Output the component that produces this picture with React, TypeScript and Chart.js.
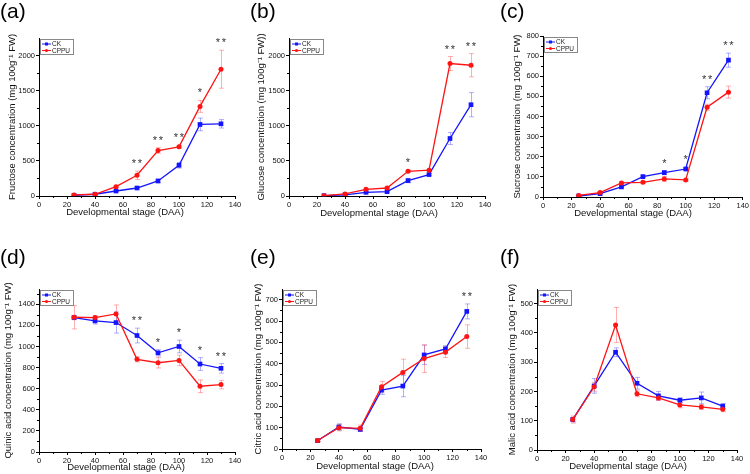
import React, { useEffect, useRef } from "react";
import { Chart, registerables } from "chart.js";
Chart.register(...registerables);

// ---- data ----
const days = [25, 40, 55, 70, 85, 100, 115, 130];
const xTicks = [0, 20, 40, 60, 80, 100, 120, 140];

const fructoseCK = [10, 25, 71, 114, 214, 438, 1019, 1028];
const fructoseCKErr = [5, 8, 10, 15, 25, 40, 90, 60];
const fructoseCPPU = [15, 25, 133, 295, 648, 700, 1276, 1805];
const fructoseCPPUErr = [5, 8, 15, 60, 40, 20, 85, 270];
const fructoseSig = ["", "", "", "**", "**", "**", "*", "**"];
const fructoseTicks = [0, 500, 1000, 1500, 2000];

const glucoseCK = [5, 15, 52, 62, 219, 305, 819, 1300];
const glucoseCKErr = [3, 5, 8, 10, 30, 15, 85, 172];
const glucoseCPPU = [5, 29, 95, 114, 352, 367, 1886, 1862];
const glucoseCPPUErr = [3, 8, 10, 10, 15, 15, 100, 165];
const glucoseSig = ["", "", "", "", "*", "", "**", "**"];
const glucoseTicks = [0, 500, 1000, 1500, 2000];

const sucroseCK = [5, 17, 50, 101, 121, 139, 518, 680];
const sucroseCKErr = [3, 3, 5, 5, 10, 10, 30, 35];
const sucroseCPPU = [8, 22, 70, 73, 90, 85, 446, 521];
const sucroseCPPUErr = [3, 3, 5, 5, 12, 5, 15, 30];
const sucroseSig = ["", "", "", "", "*", "*", "**", "**"];
const sucroseTicks = [0, 100, 200, 300, 400, 500, 600, 700, 800];

const quinicCK = [1274, 1243, 1227, 1104, 940, 1000, 834, 793];
const quinicCKErr = [20, 30, 100, 70, 30, 60, 60, 45];
const quinicCPPU = [1277, 1274, 1309, 878, 846, 868, 623, 639];
const quinicCPPUErr = [110, 20, 85, 25, 50, 50, 60, 40];
const quinicSig = ["", "", "", "**", "*", "*", "*", "**"];
const quinicTicks = [0, 200, 400, 600, 800, 1000, 1200, 1400];

const citricCK = [39, 103, 92, 276, 295, 441, 469, 645];
const citricCKErr = [5, 15, 8, 20, 50, 45, 15, 35];
const citricCPPU = [40, 100, 97, 292, 359, 424, 454, 527];
const citricCPPUErr = [5, 15, 15, 25, 62, 65, 25, 55];
const citricSig = ["", "", "", "", "", "", "", "**"];
const citricTicks = [0, 100, 200, 300, 400, 500, 600, 700];

const malicCK = [104, 219, 334, 228, 185, 170, 178, 150];
const malicCKErr = [8, 25, 15, 20, 15, 8, 20, 8];
const malicCPPU = [104, 216, 427, 192, 178, 154, 147, 139];
const malicCPPUErr = [12, 15, 60, 10, 8, 10, 8, 8];
const malicSig = ["", "", "", "", "", "", "", ""];
const malicTicks = [0, 100, 200, 300, 400, 500];

const seriesNames = ["CK", "CPPU"];
const xTitle = "Developmental stage (DAA)";

// ---- layout / style per panel ----
type Panel = {
  tag: string;
  yTitle: string;
  ck: number[]; ckErr: number[]; cppu: number[]; cppuErr: number[]; sig: string[];
  yTicks: number[]; yMax: number;
  col: number; row: number;
  area: { l: number; t: number; r: number; b: number };
  yTitleX: number; xTitleX: number; xTitleY: number;
};

const panels: Panel[] = [
  { tag: "(a)", yTitle: "Fructose concentration (mg 100g\u207B\u00B9 FW)", ck: fructoseCK, ckErr: fructoseCKErr, cppu: fructoseCPPU, cppuErr: fructoseCPPUErr, sig: fructoseSig, yTicks: fructoseTicks, yMax: 2250, col: 0, row: 0, area: { l: 39, t: 38, r: 235, b: 196 }, yTitleX: 12, xTitleX: 125, xTitleY: 212 },
  { tag: "(b)", yTitle: "Glucose concentration (mg 100g\u207B\u00B9 FW))", ck: glucoseCK, ckErr: glucoseCKErr, cppu: glucoseCPPU, cppuErr: glucoseCPPUErr, sig: glucoseSig, yTicks: glucoseTicks, yMax: 2250, col: 1, row: 0, area: { l: 39, t: 38, r: 235, b: 196 }, yTitleX: 11, xTitleX: 129, xTitleY: 213 },
  { tag: "(c)", yTitle: "Sucrose concentration (mg 100g\u207B\u00B9 FW)", ck: sucroseCK, ckErr: sucroseCKErr, cppu: sucroseCPPU, cppuErr: sucroseCPPUErr, sig: sucroseSig, yTicks: sucroseTicks, yMax: 800, col: 2, row: 0, area: { l: 43, t: 36, r: 243, b: 197 }, yTitleX: 17, xTitleX: 133, xTitleY: 213 },
  { tag: "(d)", yTitle: "Quinic acid concentration (mg 100g\u207B\u00B9 FW)", ck: quinicCK, ckErr: quinicCKErr, cppu: quinicCPPU, cppuErr: quinicCPPUErr, sig: quinicSig, yTicks: quinicTicks, yMax: 1545, col: 0, row: 1, area: { l: 39, t: 52, r: 235, b: 215 }, yTitleX: 8, xTitleX: 126, xTitleY: 230 },
  { tag: "(e)", yTitle: "Citric acid concentration (mg 100g\u207B\u00B9 FW)", ck: citricCK, ckErr: citricCKErr, cppu: citricCPPU, cppuErr: citricCPPUErr, sig: citricSig, yTicks: citricTicks, yMax: 750, col: 1, row: 1, area: { l: 32, t: 52, r: 231, b: 212 }, yTitleX: 8, xTitleX: 125, xTitleY: 229 },
  { tag: "(f)", yTitle: "Malic acid concentration (mg 100g\u207B\u00B9 FW)", ck: malicCK, ckErr: malicCKErr, cppu: malicCPPU, cppuErr: malicCPPUErr, sig: malicSig, yTicks: malicTicks, yMax: 550, col: 2, row: 1, area: { l: 37, t: 52, r: 237, b: 213 }, yTitleX: 12, xTitleX: 128, xTitleY: 229 },
];

const W = 250;
const H = 237;
const BLUE = "#1414ff";
const RED = "#ff1414";
const BLUE_ERR = "rgba(80,80,255,0.45)";
const RED_ERR = "rgba(255,80,80,0.45)";
const FONT = "'Liberation Sans', Arial, sans-serif";

function PanelChart({ p }: { p: Panel }) {
  const ref = useRef<HTMLCanvasElement | null>(null);
  useEffect(() => {
    const canvas = ref.current;
    if (!canvas) return;
    const { l, t, r, b } = p.area;

    const errPlugin = {
      id: "errbars",
      beforeDatasetsDraw(chart: any) {
        const ctx = chart.ctx;
        const xs = chart.scales.x;
        const ys = chart.scales.y;
        const sets = [
          { v: p.ck, e: p.ckErr, c: BLUE_ERR },
          { v: p.cppu, e: p.cppuErr, c: RED_ERR },
        ];
        ctx.save();
        ctx.lineWidth = 1;
        sets.forEach((s) => {
          ctx.strokeStyle = s.c;
          days.forEach((d, i) => {
            const x = Math.round(xs.getPixelForValue(d)) + 0.5;
            const y1 = ys.getPixelForValue(s.v[i] + s.e[i]);
            const y2 = ys.getPixelForValue(Math.max(0, s.v[i] - s.e[i]));
            ctx.beginPath();
            ctx.moveTo(x, y1);
            ctx.lineTo(x, y2);
            ctx.moveTo(x - 2.5, y1);
            ctx.lineTo(x + 2.5, y1);
            ctx.moveTo(x - 2.5, y2);
            ctx.lineTo(x + 2.5, y2);
            ctx.stroke();
          });
        });
        ctx.restore();
      },
    };

    const decoPlugin = {
      id: "deco",
      afterDraw(chart: any) {
        const ctx = chart.ctx;
        const xs = chart.scales.x;
        const ys = chart.scales.y;
        const ca = chart.chartArea;
        ctx.save();
        // minor ticks
        ctx.strokeStyle = "#000";
        ctx.lineWidth = 1;
        for (let i = 0; i < xTicks.length - 1; i++) {
          const m = (xTicks[i] + xTicks[i + 1]) / 2;
          const px = Math.round(xs.getPixelForValue(m)) + 0.5;
          ctx.beginPath();
          ctx.moveTo(px, ca.bottom);
          ctx.lineTo(px, ca.bottom + 2);
          ctx.stroke();
        }
        const yt = p.yTicks;
        const step = yt[1] - yt[0];
        for (let v = yt[0] + step / 2; v < p.yMax; v += step) {
          const py = Math.round(ys.getPixelForValue(v)) + 0.5;
          ctx.beginPath();
          ctx.moveTo(ca.left, py);
          ctx.lineTo(ca.left - 2, py);
          ctx.stroke();
        }
        // x title
        ctx.fillStyle = "#111";
        ctx.font = `9.5px ${FONT}`;
        ctx.textAlign = "center";
        ctx.textBaseline = "middle";
        ctx.fillText(xTitle, p.xTitleX, p.xTitleY);
        // significance marks
        ctx.fillStyle = "#333";
        ctx.font = `11px ${FONT}`;
        days.forEach((d, i) => {
          const s = p.sig[i];
          if (!s) return;
          const top = Math.max(p.ck[i] + p.ckErr[i], p.cppu[i] + p.cppuErr[i]);
          const px = xs.getPixelForValue(d);
          const py = ys.getPixelForValue(top) - 7;
          const n = s.length;
          for (let k = 0; k < n; k++) {
            ctx.fillText("*", px + (k - (n - 1) / 2) * 6, py);
          }
        });
        // legend
        const bx = ca.left + 1.5;
        const by = ca.top + 1.5;
        const bw = 33;
        const bh = 15;
        ctx.strokeStyle = "#888";
        ctx.lineWidth = 1;
        ctx.fillStyle = "#fff";
        ctx.fillRect(bx, by, bw, bh);
        ctx.strokeRect(bx, by, bw, bh);
        const items = [
          { name: seriesNames[0], c: BLUE, rect: true },
          { name: seriesNames[1], c: RED, rect: false },
        ];
        ctx.font = `6.5px ${FONT}`;
        ctx.textAlign = "left";
        items.forEach((it, k) => {
          const yy = by + 4.5 + k * 6.5;
          ctx.strokeStyle = it.c;
          ctx.lineWidth = 1;
          ctx.beginPath();
          ctx.moveTo(bx + 1.5, yy);
          ctx.lineTo(bx + 10.5, yy);
          ctx.stroke();
          ctx.fillStyle = it.c;
          if (it.rect) ctx.fillRect(bx + 4.5, yy - 1.5, 3, 3);
          else {
            ctx.beginPath();
            ctx.arc(bx + 6, yy, 1.6, 0, Math.PI * 2);
            ctx.fill();
          }
          ctx.fillStyle = "#222";
          ctx.textBaseline = "middle";
          ctx.fillText(it.name, bx + 11.5, yy + 0.3);
        });
        ctx.restore();
      },
    };

    const mk = (vals: number[]) => days.map((d, i) => ({ x: d, y: vals[i] }));

    const chart = new Chart(canvas, {
      type: "line",
      data: {
        datasets: [
          {
            label: seriesNames[1],
            data: mk(p.cppu),
            borderColor: RED,
            backgroundColor: RED,
            borderWidth: 1.3,
            pointStyle: "circle",
            pointRadius: 2.5,
            pointBorderWidth: 0,
            tension: 0,
          },
          {
            label: seriesNames[0],
            data: mk(p.ck),
            borderColor: BLUE,
            backgroundColor: BLUE,
            borderWidth: 1.3,
            pointStyle: "rect",
            pointRadius: 3.3,
            pointBorderWidth: 0,
            tension: 0,
          },
        ],
      },
      options: {
        responsive: false,
        animation: false,
        layout: { padding: { left: 0, top: t, right: W - r, bottom: 0 } },
        plugins: { legend: { display: false }, tooltip: { enabled: false } },
        scales: {
          x: {
            type: "linear",
            min: 0,
            max: 140,
            afterFit: (s: any) => { s.height = H - b; },
            afterBuildTicks: (s: any) => { s.ticks = xTicks.map((v) => ({ value: v })); },
            ticks: { padding: 1, color: "#111", font: { family: FONT, size: 7.5 }, callback: (v: any) => String(v) },
            grid: { drawOnChartArea: false, drawTicks: true, tickLength: 3, color: "#000", lineWidth: 1 },
            border: { display: true, color: "#000", width: 1 },
          },
          y: {
            type: "linear",
            min: 0,
            max: p.yMax,
            afterFit: (s: any) => { s.width = l; },
            afterBuildTicks: (s: any) => { s.ticks = p.yTicks.map((v) => ({ value: v })); },
            ticks: { padding: 1, color: "#111", font: { family: FONT, size: 7.5 }, callback: (v: any) => String(v) },
            grid: { drawOnChartArea: false, drawTicks: true, tickLength: 3, color: "#000", lineWidth: 1 },
            border: { display: true, color: "#000", width: 1 },
            title: {
              display: true,
              text: p.yTitle,
              color: "#111",
              font: { family: FONT, size: 9.5 },
              padding: { top: Math.max(0, p.yTitleX - 5.7), bottom: 0 },
            },
          },
        },
      },
      plugins: [errPlugin, decoPlugin],
    } as any);
    return () => chart.destroy();
  }, [p]);

  return (
    <div style={{ position: "absolute", left: p.col * W, top: p.row * H, width: W, height: H }}>
      <canvas ref={ref} width={W} height={H} style={{ display: "block" }} />
      <div
        style={{
          position: "absolute",
          left: 0,
          top: p.row === 0 ? 0 : 9,
          fontFamily: FONT,
          fontSize: 21,
          lineHeight: "21px",
          color: "#000",
        }}
      >
        {p.tag}
      </div>
    </div>
  );
}

export default function App() {
  return (
    <div style={{ position: "absolute", left: 0, top: 0, width: 750, height: 474, background: "#fff", overflow: "hidden" }}>
      {panels.map((p) => (
        <PanelChart key={p.tag} p={p} />
      ))}
    </div>
  );
}
